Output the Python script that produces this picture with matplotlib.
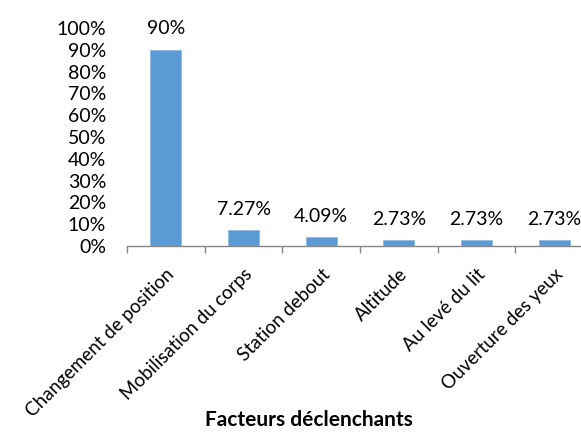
import matplotlib
matplotlib.use("Agg")
import matplotlib.pyplot as plt
import numpy as np

categories = ["Changement de position", "Mobilisation du corps", "Station debout",
              "Altitude", "Au levé du lit", "Ouverture des yeux"]
values = [90, 7.27, 4.09, 2.73, 2.73, 2.73]
value_labels = ["90%", "7.27%", "4.09%", "2.73%", "2.73%", "2.73%"]
ytick_values = list(range(0, 101, 10))
ytick_labels = [f"{v}%" for v in ytick_values]
xlabel = "Facteurs déclenchants"

plt.rcParams['font.family'] = ['Lato', 'DejaVu Sans']

fig = plt.figure(figsize=(5.81, 4.32), dpi=100)
ax = fig.add_axes([127/581, (432-246)/432, (593-127)/581, (246-28)/432])

x = np.arange(len(categories))
ax.bar(x, values, width=0.4, color="#5B9BD5", edgecolor="#8DB9E4", linewidth=0.6, zorder=3)
for xi, v, lab in zip(x, values, value_labels):
    ax.annotate(lab, (xi, v), xytext=(0, 9), textcoords="offset points",
                ha="center", va="bottom", fontsize=14, color="black")

ax.set_xlim(-0.5, len(categories) - 0.5)
ax.set_ylim(0, 100)
ax.set_yticks(ytick_values)
ax.set_yticklabels(ytick_labels, fontsize=14)
ax.tick_params(axis="y", length=0, pad=15)

ax.set_xticks(x)
ax.set_xticklabels(categories, rotation=45, ha="right", va="top",
                   rotation_mode="anchor", fontsize=13.5)
ax.tick_params(axis="x", length=0, pad=14)
# boundary tick marks
ax.set_xticks(np.arange(-0.5, len(categories), 1.0), minor=True)
ax.tick_params(axis="x", which="minor", length=5, color="#868686", width=1)

for s in ["top", "right", "left"]:
    ax.spines[s].set_visible(False)
ax.spines["bottom"].set_color("#868686")
ax.spines["bottom"].set_linewidth(1)

fig.text(309/581, 1 - 420/432, xlabel, ha="center", va="center",
         fontsize=15, fontweight="bold")

fig.savefig("out.png", dpi=100)
